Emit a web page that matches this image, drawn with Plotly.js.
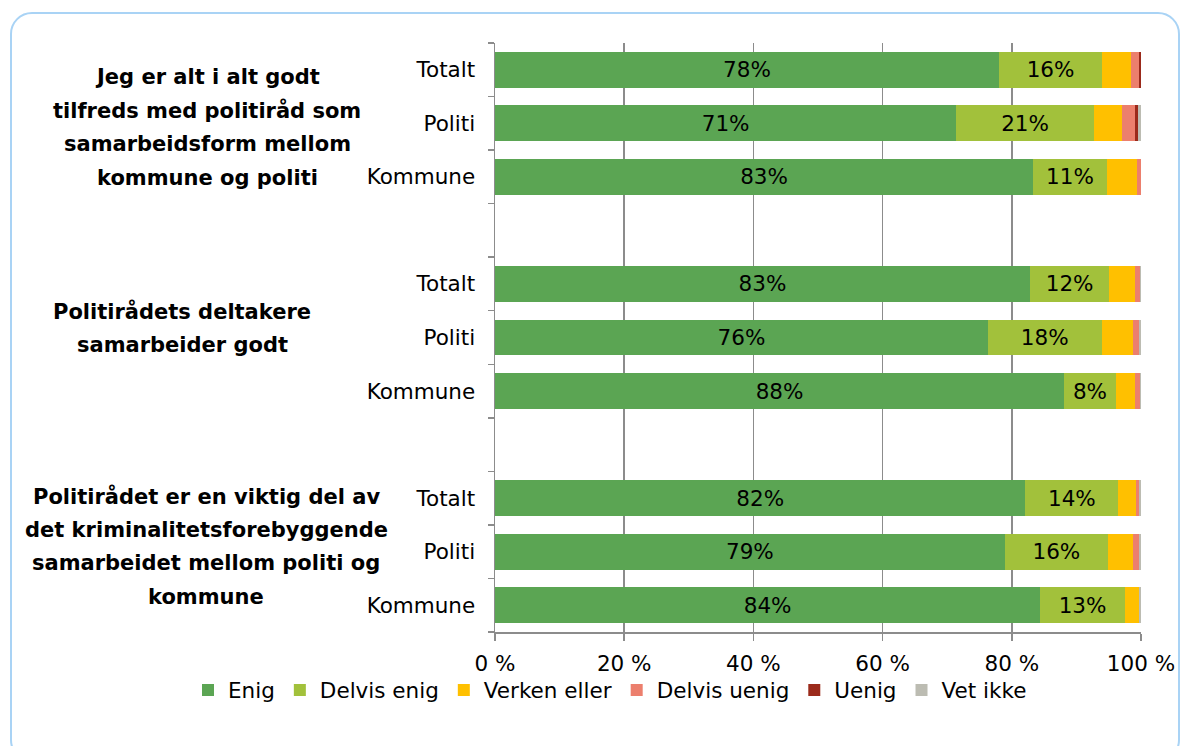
<!DOCTYPE html>
<html>
<head>
<meta charset="utf-8">
<script src="https://cdn.plot.ly/plotly-3.0.1.min.js"></script>
<style>
  html, body { margin: 0; padding: 0; background: #ffffff; }
  #wrap { position: relative; width: 1185px; height: 746px; overflow: hidden; }
  #chart { width: 1185px; height: 746px; }
  #frame { position: absolute; left: 10px; top: 12px; width: 1170px; height: 750px;
           border: 2px solid #a9d3f5; border-radius: 22px; pointer-events: none; box-sizing: border-box; }
</style>
</head>
<body>
<div id="wrap">
  <div id="chart"></div>
  <div id="frame"></div>
</div>
<script>
// ---- data ----
const rowLabels = ["Totalt", "Politi", "Kommune"];
const groupLabels = [
  ["Jeg er alt i alt godt", "tilfreds med politiråd som", "samarbeidsform mellom", "kommune og politi"],
  ["Politirådets deltakere", "samarbeider godt"],
  ["Politirådet er en viktig del av", "det kriminalitetsforebyggende", "samarbeidet mellom politi og", "kommune"]
];
const seriesNames = ["Enig", "Delvis enig", "Verken eller", "Delvis uenig", "Uenig", "Vet ikke"];
// rows: g1 Totalt, Politi, Kommune, g2 ..., g3 ...
const enig        = [78.0, 71.4, 83.3, 82.8, 76.3, 88.1, 82.1, 78.9, 84.4];
const delvisEnig  = [16.0, 21.3, 11.4, 12.3, 17.6,  8.0, 14.4, 16.0, 13.1];
const verkenEller = [ 4.4,  4.3,  4.7,  3.9,  4.9,  3.0,  2.8,  3.9,  2.2];
const delvisUenig = [ 1.3,  2.1,  0.6,  0.8,  0.9,  0.8,  0.4,  0.9,  0.0];
const uenig       = [ 0.3,  0.5,  0.0,  0.0,  0.0,  0.0,  0.0,  0.0,  0.0];
const vetIkke     = [ 0.0,  0.4,  0.0,  0.2,  0.3,  0.1,  0.3,  0.3,  0.3];
const tickSuffix = " %";

// ---- styling ----
const colors = ["#5ba553", "#a2c13b", "#ffc000", "#ec7f6d", "#9b2a1b", "#bcbcb2"];
const labeled = [true, true, false, false, false, false];
const groupCenterX = [207, 182, 206];   // px
const groupShift = [4, -9, -5];        // px
const lineSpacing = 33.5;
const FONT = "DejaVu Sans, Verdana, sans-serif";

// category ids: rows per group plus a spacer between groups
const cats = [], ticktext = [], rowIds = [];
groupLabels.forEach((g, gi) => {
  rowLabels.forEach(r => { const id = "g" + gi + "_" + r; cats.push(id); ticktext.push(r); rowIds.push(id); });
  if (gi < groupLabels.length - 1) { cats.push("gap" + gi); ticktext.push(""); }
});

const allSeries = [enig, delvisEnig, verkenEller, delvisUenig, uenig, vetIkke];
const traces = allSeries.map((vals, si) => ({
  type: "bar",
  orientation: "h",
  name: seriesNames[si],
  x: vals,
  y: rowIds,
  marker: { color: colors[si], line: { width: 0 } },
  text: labeled[si] ? vals.map(v => Math.round(v) + "%") : vals.map(() => ""),
  textposition: labeled[si] ? "inside" : "none",
  insidetextanchor: "middle",
  textangle: 0,
  constraintext: "none",
  insidetextfont: { family: FONT, size: 21.5, color: "#000000" },
  hoverinfo: "name+x"
}));

const pw = 1185, ph = 746;
const m = { l: 495, r: 44, t: 43, b: 114 };
const plotW = pw - m.l - m.r;
const plotH = ph - m.t - m.b;

const annotations = [];
groupLabels.forEach((lines, gi) => {
  const mid = rowIds[gi * 3 + 1];
  lines.forEach((txt, li) => {
    annotations.push({
      xref: "paper", yref: "y",
      x: (groupCenterX[gi] - m.l) / plotW, y: mid,
      xanchor: "center", yanchor: "middle",
      yshift: -((li - (lines.length - 1) / 2) * lineSpacing + groupShift[gi]),
      text: "<b>" + txt + "</b>",
      showarrow: false,
      font: { family: FONT, size: 21, color: "#000000" }
    });
  });
});

const layout = {
  width: pw, height: ph,
  margin: m,
  paper_bgcolor: "rgba(0,0,0,0)",
  plot_bgcolor: "rgba(0,0,0,0)",
  barmode: "stack",
  bargap: 0.33,
  font: { family: FONT, size: 21.5, color: "#000000" },
  showlegend: true,
  legend: {
    orientation: "h",
    x: (188 - m.l) / plotW, xanchor: "left",
    y: -(690 - (ph - m.b)) / plotH, yanchor: "middle",
    font: { family: FONT, size: 21.5, color: "#000000" },
    traceorder: "normal",
    itemwidth: 30,
    bgcolor: "rgba(0,0,0,0)"
  },
  xaxis: {
    range: [0, 100],
    dtick: 20, tick0: 0,
    ticksuffix: tickSuffix,
    showgrid: true, gridcolor: "#8c8c8c", gridwidth: 1.5,
    zeroline: false,
    showline: true, linecolor: "#8c8c8c", linewidth: 1.5,
    ticks: "outside", ticklen: 7, tickcolor: "#8c8c8c", tickwidth: 1.5,
    ticklabelstandoff: 5,
    tickfont: { family: FONT, size: 21.5, color: "#000000" },
    fixedrange: true
  },
  yaxis: {
    type: "category",
    categoryorder: "array", categoryarray: cats,
    tickmode: "array", tickvals: cats, ticktext: ticktext,
    range: [cats.length - 0.5, -0.5],
    tickson: "boundaries",
    ticks: "outside", ticklen: 6, tickcolor: "#8c8c8c", tickwidth: 1.5,
    showline: true, linecolor: "#8c8c8c", linewidth: 1.5,
    showgrid: false, zeroline: false,
    ticklabelstandoff: 14,
    tickfont: { family: FONT, size: 21.5, color: "#000000" },
    fixedrange: true
  },
  annotations: annotations
};

Plotly.newPlot("chart", traces, layout, { displayModeBar: false, staticPlot: true });
</script>
</body>
</html>
